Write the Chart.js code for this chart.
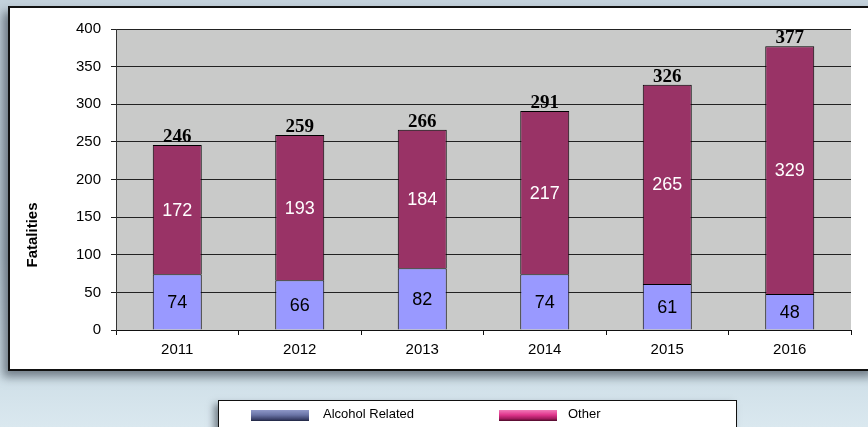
<!DOCTYPE html>
<html>
<head>
<meta charset="utf-8">
<script src="https://cdn.jsdelivr.net/npm/chart.js@4"></script>
<style>
  html, body { margin: 0; padding: 0; }
  body {
    width: 868px; height: 427px; overflow: hidden; position: relative;
    background: linear-gradient(180deg, #c4d2dc 0%, #b9c9d4 60%, #cfdfe8 88%, #dae8ef 100%);
  }
  #frame {
    position: absolute; left: 8px; top: 6px; width: 870px; height: 365px;
    background: #fff; border: 2px solid #111; box-sizing: border-box;
    box-shadow: -5px 6px 9px rgba(40, 50, 60, 0.55);
  }
  #wrap { position: absolute; left: 0; top: 0; width: 868px; height: 427px; }
  #legend {
    position: absolute; left: 218px; top: 400px; width: 519px; height: 40px;
    background: #fff; border: 1px solid #111; box-sizing: border-box;
    box-shadow: -4px 4px 7px rgba(40, 50, 60, 0.55);
    font: 13px "Liberation Sans", Arial, sans-serif; color: #000;
  }
  .item { position: absolute; top: 2px; height: 22px; line-height: 22px; }
  .sw { position: absolute; top: 7px; width: 58px; height: 11px; }
  .lbl { position: absolute; top: 0; white-space: nowrap; }
</style>
</head>
<body>
<div id="frame"></div>
<div id="wrap"><canvas id="myChart" width="868" height="427"></canvas></div>
<div id="legend"></div>
<script>
const years = ['2011', '2012', '2013', '2014', '2015', '2016'];
const alcohol = [74, 66, 82, 74, 61, 48];
const other = [172, 193, 184, 217, 265, 329];
const totals = [246, 259, 266, 291, 326, 377];
const seriesNames = ['Alcohol Related', 'Other'];
const yTitle = 'Fatalities';

// legend built from series names
const legendSwatches = [
  'linear-gradient(180deg, #8f98c8 0%, #6a74a6 45%, #3a4068 85%, #1e2440 100%)',
  'linear-gradient(180deg, #f27ab8 0%, #e0358c 45%, #a01a5c 80%, #4a0a28 100%)'
];
const legendX = [[32, 104], [280, 349]];
const legendEl = document.getElementById('legend');
seriesNames.forEach((name, i) => {
  const it = document.createElement('div');
  it.className = 'item';
  it.innerHTML = '<div class="sw" style="left:' + legendX[i][0] + 'px;background:' + legendSwatches[i] + '"></div>' +
                 '<div class="lbl" style="left:' + legendX[i][1] + 'px">' + name + '</div>';
  legendEl.appendChild(it);
});

const plotBg = {
  id: 'plotBg',
  beforeDraw(chart) {
    const { ctx, chartArea: a } = chart;
    ctx.save();
    ctx.fillStyle = '#c9cac9';
    ctx.fillRect(a.left, a.top, a.right - a.left, a.bottom - a.top);
    ctx.restore();
  }
};

const barLabels = {
  id: 'barLabels',
  afterDatasetsDraw(chart) {
    const ctx = chart.ctx;
    ctx.save();
    ctx.textAlign = 'center';
    ctx.textBaseline = 'middle';
    ctx.font = '18px "Liberation Sans", Arial, sans-serif';
    chart.data.datasets.forEach((ds, di) => {
      const meta = chart.getDatasetMeta(di);
      meta.data.forEach((bar, i) => {
        ctx.fillStyle = di === 0 ? '#000' : '#fff';
        ctx.fillText(ds.data[i], bar.x, (bar.y + bar.base) / 2 + 1);
      });
    });
    // totals on top
    const top = chart.getDatasetMeta(1);
    ctx.fillStyle = '#000';
    ctx.font = 'bold 19px "Liberation Serif", "Times New Roman", serif';
    ctx.textBaseline = 'alphabetic';
    top.data.forEach((bar, i) => {
      ctx.fillText(totals[i], bar.x, bar.y - 3);
    });
    // y axis title
    ctx.save();
    ctx.translate(33, 235);
    ctx.rotate(-Math.PI / 2);
    ctx.font = 'bold 15px "Liberation Sans", Arial, sans-serif';
    ctx.textBaseline = 'middle';
    ctx.fillText(yTitle, 0, 0);
    ctx.restore();
    ctx.restore();
  }
};

const ctx = document.getElementById('myChart').getContext('2d');
const myChart = new Chart(ctx, {
  type: 'bar',
  data: {
    labels: years,
    datasets: [{
      label: seriesNames[0],
      data: alcohol,
      backgroundColor: '#9999ff',
      borderColor: '#000',
      borderWidth: 1
    }, {
      label: seriesNames[1],
      data: other,
      backgroundColor: '#993366',
      borderColor: '#000',
      borderWidth: 1
    }]
  },
  options: {
    responsive: false,
    animation: false,
    events: [],
    categoryPercentage: 1,
    barPercentage: 0.4,
    layout: { padding: { left: 0, top: 29, right: 17, bottom: 66 } },
    plugins: {
      legend: { display: false },
      tooltip: { enabled: false }
    },
    scales: {
      x: {
        stacked: true,
        afterFit(s) { s.height = 31; },
        grid: { drawOnChartArea: false, drawTicks: true, tickLength: 5, color: '#111', offset: true },
        border: { color: '#111', width: 1 },
        ticks: { color: '#000', padding: 6, font: { family: '"Liberation Sans", Arial, sans-serif', size: 15 } }
      },
      y: {
        stacked: true,
        min: 0,
        max: 400,
        afterFit(s) { s.width = 116; },
        grid: { color: '#222', lineWidth: 1, tickLength: 5, drawTicks: true },
        border: { color: '#333', width: 1 },
        ticks: { stepSize: 50, color: '#000', padding: 10, font: { family: '"Liberation Sans", Arial, sans-serif', size: 15 } }
      }
    }
  },
  plugins: [plotBg, barLabels]
});
</script>
</body>
</html>
